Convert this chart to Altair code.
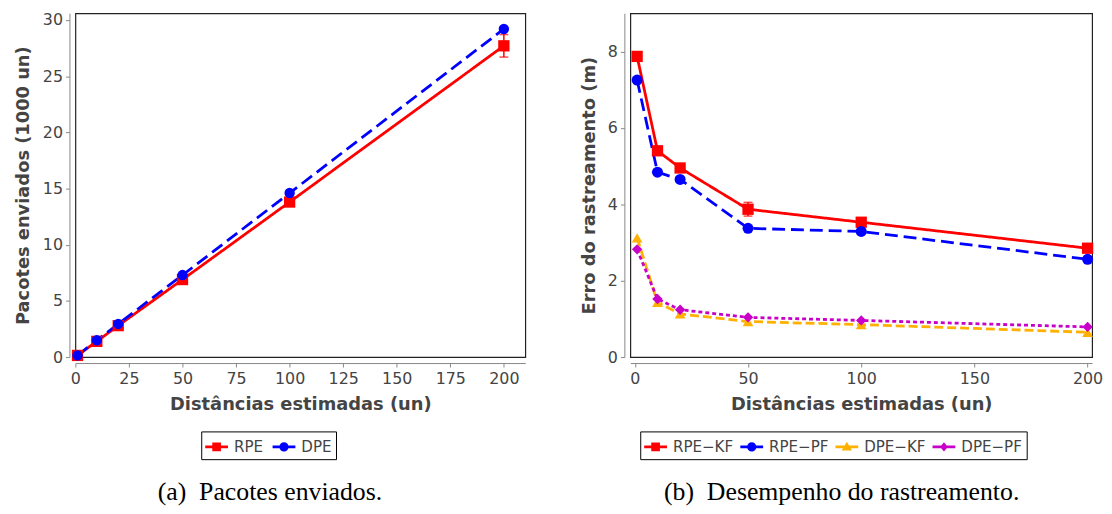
import altair as alt
import pandas as pd

# ---------------- data ----------------
x_vals = [1, 10, 20, 50, 100, 200]

# panel (a): packets sent (1000 un)
series_a = ["RPE", "DPE"]
rpe_pkts = [0.15, 1.4, 2.8, 6.9, 13.8, 27.7]
rpe_pkts_err = [0.05, 0.1, 0.1, 0.15, 0.2, 1.0]
dpe_pkts = [0.15, 1.5, 2.95, 7.3, 14.6, 29.2]

# panel (b): tracking error (m)
series_b = ["RPE\u2212KF", "RPE\u2212PF", "DPE\u2212KF", "DPE\u2212PF"]
rpe_kf = [7.87, 5.4, 4.95, 3.87, 3.53, 2.85]
rpe_kf_err = [0.05, 0.1, 0.06, 0.18, 0.07, 0.05]
rpe_pf = [7.25, 4.84, 4.65, 3.37, 3.29, 2.56]
dpe_kf = [3.12, 1.43, 1.13, 0.93, 0.85, 0.65]
dpe_pf = [2.82, 1.52, 1.24, 1.04, 0.96, 0.79]

x_ticks_a = [0, 25, 50, 75, 100, 125, 150, 175, 200]
y_ticks_a = [0, 5, 10, 15, 20, 25, 30]
x_ticks_b = [0, 50, 100, 150, 200]
y_ticks_b = [0, 2, 4, 6, 8]

# ---------------- tables ----------------
def long_table(names, values):
    rows = []
    for name, vals in zip(names, values):
        for xv, yv in zip(x_vals, vals):
            rows.append({"x": xv, "y": yv, "s": name})
    return pd.DataFrame(rows)

df_a = long_table(series_a, [rpe_pkts, dpe_pkts])
df_b = long_table(series_b, [rpe_kf, rpe_pf, dpe_kf, dpe_pf])

err_a = pd.DataFrame({"x": x_vals,
                      "lo": [v - e for v, e in zip(rpe_pkts, rpe_pkts_err)],
                      "hi": [v + e for v, e in zip(rpe_pkts, rpe_pkts_err)]})
err_b = pd.DataFrame({"x": x_vals,
                      "lo": [v - e for v, e in zip(rpe_kf, rpe_kf_err)],
                      "hi": [v + e for v, e in zip(rpe_kf, rpe_kf_err)]})

# ---------------- styles ----------------
RED, BLUE, ORANGE, MAGENTA = "#ff0000", "#0000ff", "#ffb000", "#c800c8"
FONT = "DejaVu Sans"

LINE = "M-1,-0.12H1V0.12H-1Z"
P_SQUARE = LINE + "M-0.38,-0.38H0.38V0.38H-0.38Z"
P_CIRCLE = LINE + "M-0.4,0A0.4,0.4,0,1,1,0.4,0A0.4,0.4,0,1,1,-0.4,0Z"
P_TRI = LINE + "M0,-0.45L0.45,0.32L-0.45,0.32Z"
P_DIAM = LINE + "M0,-0.4L0.34,0L0,0.4L-0.34,0Z"


def panel(df, err, names, colors, dashes, shapes, sizes, leg_paths,
          xdom, xticks, ydom, yticks, ytitle, caption, w, h, legx, legy, ytp, colpad):
    X = alt.X("x:Q", scale=alt.Scale(domain=xdom, nice=False, zero=False),
              axis=alt.Axis(values=xticks, title="Dist\u00e2ncias estimadas (un)",
                            offset=6, tickSize=4, labelPadding=4, titlePadding=9,
                            grid=False, domainColor="#888", tickColor="#888",
                            labelColor="#444", titleColor="#444",
                            labelFont=FONT, labelFontSize=16, titleFont=FONT,
                            titleFontSize=18, titleFontWeight="bold",
                            labelFlush=False))

    def Y(field):
        return alt.Y(field, scale=alt.Scale(domain=ydom, nice=False, zero=False),
                     axis=alt.Axis(values=yticks, title=ytitle, offset=6, tickSize=4,
                                   labelPadding=3, titlePadding=ytp, grid=False,
                                   domainColor="#888", tickColor="#888",
                                   labelColor="#444", titleColor="#444",
                                   labelFont=FONT, labelFontSize=16, titleFont=FONT,
                                   titleFontSize=18, titleFontWeight="bold",
                                   labelFlush=False))

    cscale = alt.Scale(domain=names, range=colors)
    base = alt.Chart(df)

    lines = base.mark_line(strokeWidth=2.8).encode(
        x=X, y=Y("y:Q"),
        color=alt.Color("s:N", scale=cscale, legend=None),
        strokeDash=alt.StrokeDash("s:N", scale=alt.Scale(domain=names, range=dashes), legend=None),
    )
    errs = alt.Chart(err).mark_errorbar(ticks=True, size=9, thickness=1.5, color=RED).encode(
        x=X, y=Y("lo:Q"), y2="hi:Q")
    points = base.mark_point(filled=True, opacity=1, strokeWidth=0).encode(
        x=X, y=Y("y:Q"),
        color=alt.Color("s:N", scale=cscale, legend=None),
        shape=alt.Shape("s:N", scale=alt.Scale(domain=names, range=shapes), legend=None),
        size=alt.Size("s:N", scale=alt.Scale(domain=names, range=sizes), legend=None),
    )
    leg_kw = dict(orient="none", legendX=legx, legendY=legy, direction="horizontal",
                  title=None, strokeColor="black", padding=4, symbolSize=529,
                  symbolStrokeWidth=0, labelFont=FONT, labelFontSize=15.2,
                  labelColor="#444", labelOffset=6, columnPadding=colpad)
    legend_layer = base.transform_filter("false").mark_point(
        filled=True, opacity=1, strokeWidth=0).encode(
        x=X, y=Y("y:Q"),
        color=alt.Color("s:N", scale=cscale, legend=alt.Legend(**leg_kw)),
        shape=alt.Shape("s:N", scale=alt.Scale(domain=names, range=leg_paths),
                        legend=alt.Legend(**leg_kw)),
    )
    return alt.layer(lines, errs, points, legend_layer).resolve_scale(
        color="independent", shape="independent", strokeDash="independent",
        size="independent"
    ).properties(
        width=w, height=h,
        title=alt.TitleParams(caption, orient="bottom", anchor="middle", frame="bounds",
                              font="Liberation Serif", fontSize=26,
                              fontWeight="normal", color="black", offset=20),
    )


left = panel(df_a, err_a, series_a, [RED, BLUE], [[1, 0], [13, 6]],
             ["square", "circle"], [130, 110], [P_SQUARE, P_CIRCLE],
             [0, 210], x_ticks_a, [0, 30.6], y_ticks_a,
             "Pacotes enviados (1000 un)", "(a)\u00a0\u00a0Pacotes enviados.",
             454, 347, 127, 422, 10, 9)

right = panel(df_b, err_b, series_b, [RED, BLUE, ORANGE, MAGENTA],
              [[1, 0], [13, 6], [9, 4], [4, 3]],
              ["square", "circle", "triangle-up", "diamond"], [130, 110, 120, 85],
              [P_SQUARE, P_CIRCLE, P_TRI, P_DIAM],
              [-2, 202], x_ticks_b, [0, 9], y_ticks_b,
              "Erro do rastreamento (m)", "(b)\u00a0\u00a0Desempenho do rastreamento.",
              466, 347, 10, 422, 9, 7)

chart = alt.hconcat(left, right, spacing=54).resolve_scale(
    color="independent", shape="independent", strokeDash="independent", size="independent"
).properties(
    padding={"left": 6, "top": 1, "right": 0, "bottom": 0},
    background="white",
).configure_view(stroke="#222", strokeWidth=1.2)

chart.save("out.html", embed_options={"renderer": "svg", "actions": False})
